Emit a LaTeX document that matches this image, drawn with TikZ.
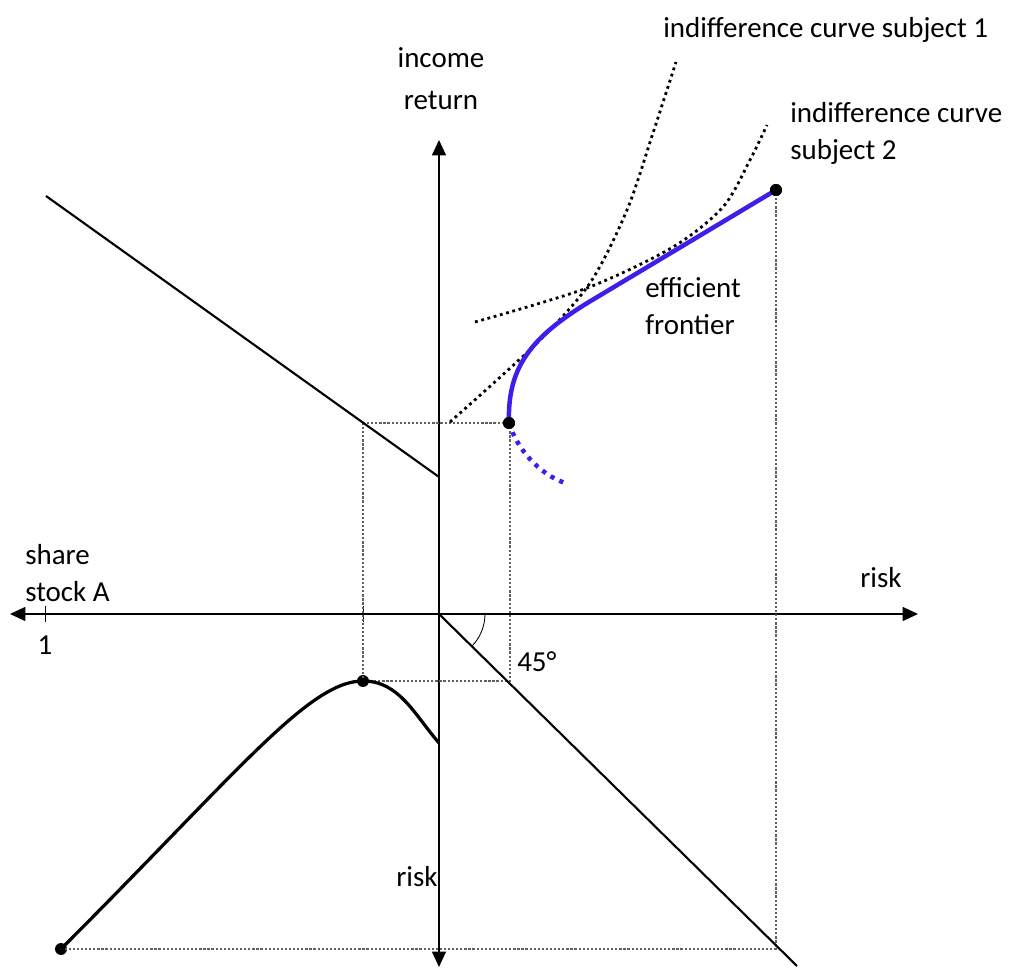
\documentclass[tikz,border=0pt]{standalone}
\usepackage{fontspec}
\setmainfont{Carlito}
\usetikzlibrary{arrows.meta}

\definecolor{frontierblue}{RGB}{62,30,235}

\begin{document}
\begin{tikzpicture}[
        x=0.025cm, y=0.025cm,
        font=\fontsize{20.6}{27}\selectfont,
        axis/.style={{Triangle[length=11pt,width=10pt]}-{Triangle[length=11pt,width=10pt]}, line width=0.9pt},
        line/.style={line width=1.5pt},
        guide/.style={gray!75!black, line width=0.9pt, dash pattern=on 1.6pt off 1.3pt},
        indiff/.style={line width=2pt, dash pattern=on 2pt off 2.6pt},
        frontier/.style={frontierblue, line width=3.2pt},
        dot/.style={circle, fill, inner sep=0pt, minimum size=8.5pt},
        lbl/.style={inner sep=0pt, align=left}
    ]
        \useasboundingbox (-439,-356) rectangle (573,614);
        % axes
        \coordinate (O) at (0,0);
        \coordinate (xl) at (-429,0);
        \coordinate (xr) at (479,0);
        \coordinate (yt) at (0,474);
        \coordinate (yb) at (0,-353);
        \draw[axis] (xl) -- (xr);
        \draw[axis] (yb) -- (yt);
        \coordinate (tone) at (-394,0);
        \coordinate (tmid) at (-76,0);
        \draw[line width=0.6pt] ([yshift=-6] tone) -- ([yshift=6] tone);
        \draw[line width=0.6pt] ([yshift=-6] tmid) -- ([yshift=6] tmid);
        % points
        \node[dot] (minvar) at (70,191) {};
        \node[dot] (maxret) at (337,424) {};
        \node[dot] (peak) at (-76,-67) {};
        \node[dot] (full) at (-378,-335) {};
        \coordinate (gtl) at (-76,191);
        \coordinate (gbr) at (71,-67);
        \coordinate (diagend) at (358,-352);
        \coordinate (budl) at (-393,418);
        \coordinate (budr) at (0,137);
        % guides
        \draw[guide] (gtl) -- (minvar.center);
        \draw[guide] (gtl) -- (peak.center) -- (gbr) -- (gbr |- minvar);
        \draw[guide] (maxret.center) -- (maxret |- full) -- (full.center);
        % lines
        \draw[line] (budl) -- (budr);
        \draw[line] (O) -- (diagend);
        \draw[line width=0.6pt] (46,0) arc[start angle=0, end angle=-45, radius=46];
        \draw[line width=2.3pt] (full.center) .. controls (-200,-157) and (-130,-67) .. (peak.center)
            .. controls (-40,-67) and (-25,-100) .. (0,-129);
        % indifference curves
        \draw[indiff] plot[smooth] coordinates {(11,192) (98,271) (151,331) (188,404) (214,481) (237,552)};
        \draw[indiff] plot[smooth] coordinates {(36,292) (148,326) (234,367) (284,407) (311,454) (328,489)};
        % frontier
        \draw[frontier] (minvar.center) .. controls (68,250) and (95,280) .. (160,318) -- (maxret.center);
        \draw[frontier, dash pattern=on 3pt off 4pt] (minvar.center) .. controls (78,165) and (100,140) .. (126,131);
        \node[dot] at (minvar) {};
        \node[dot] at (maxret) {};
        % labels
        \node[lbl, anchor=base west] (ic1) at (224,576) {indifference curve subject 1};
        \node[lbl, anchor=base, align=center] (inc) at (2,504) {income\\[3pt]return};
        \node[lbl, anchor=base west] (ic2) at (351,454) {indifference curve\\subject 2};
        \node[lbl, anchor=base west] (eff) at (206,279) {efficient\\frontier};
        \node[lbl, anchor=base west] (share) at (-414,12) {share\\stock A};
        \node[lbl, anchor=base west] (riskx) at (421,26) {risk};
        \node[lbl, anchor=base] (one) at (-394,-41) {1};
        \node[lbl, anchor=base west] (ang) at (78,-58) {45°};
        \node[lbl, anchor=base west] (risky) at (-43,-273) {risk};
    \end{tikzpicture}
\end{document}
